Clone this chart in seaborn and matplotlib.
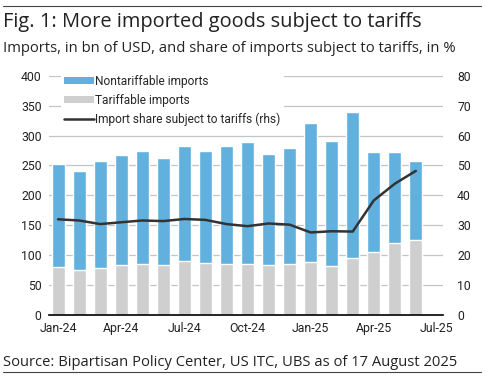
import matplotlib
matplotlib.use("Agg")
import matplotlib.pyplot as plt
import numpy as np
import pandas as pd
import seaborn as sns
from matplotlib.lines import Line2D
from matplotlib.patches import Patch

# Data (monthly, Jan-24 .. Jun-25)
months = ["Jan-24", "Feb-24", "Mar-24", "Apr-24", "May-24", "Jun-24",
          "Jul-24", "Aug-24", "Sep-24", "Oct-24", "Nov-24", "Dec-24",
          "Jan-25", "Feb-25", "Mar-25", "Apr-25", "May-25", "Jun-25"]
total_imports = [253, 241, 258, 268, 274, 263, 283, 275, 282, 290, 269, 280,
                 321, 291, 340, 272, 272, 258]
tariffable = [81, 76, 78, 84, 86, 83, 91, 87, 85, 86, 84, 85,
              89, 82, 95, 105, 120, 125]
share_tariffed = [32.0, 31.6, 30.4, 31.0, 31.6, 31.4, 32.1, 31.8, 30.4, 29.7,
                  30.6, 30.2, 27.6, 28.0, 27.9, 38.3, 43.9, 48.2]
tick_labels = ["Jan-24", "Apr-24", "Jul-24", "Oct-24", "Jan-25", "Apr-25", "Jul-25"]

df = pd.DataFrame({"month": months, "total": total_imports,
                   "tariffable": tariffable, "share": share_tariffed})
df["pos"] = np.arange(len(df))

blue = "#62b0de"
grey = "#cfcfcf"
dark = "#333333"

sns.set_style("white")
plt.rcParams["font.family"] = ["Roboto", "DejaVu Sans"]

fig = plt.figure(figsize=(4.86, 3.79), dpi=100)
ax = fig.add_axes([0.10, 0.169, 0.812, 0.631])

# stacked bars: total in blue, tariffable part drawn over in grey
sns.barplot(data=df, x="month", y="total", color=blue, width=0.62,
            saturation=1, ax=ax, zorder=2)
sns.barplot(data=df, x="month", y="tariffable", color=grey, width=0.62,
            saturation=1, ax=ax, zorder=2)

ax.set_ylim(0, 400)
ax.set_yticks(range(0, 401, 50))
ax.set_xlim(-0.45, 18.3)
ax.set_xticks(range(0, 19, 3))
ax.set_xticklabels(tick_labels)
ax.set_xlabel("")
ax.set_ylabel("")
ax.yaxis.grid(True, color="#c4c4c4", linewidth=0.9, zorder=0)
ax.set_axisbelow(True)
for s in ["top", "right", "left"]:
    ax.spines[s].set_visible(False)
ax.spines["bottom"].set_color("black")
ax.spines["bottom"].set_linewidth(1.2)
ax.tick_params(axis="both", length=0, labelsize=8.8, colors="#222222", pad=5)

ax2 = ax.twinx()
sns.lineplot(data=df, x="pos", y="share", color=dark, linewidth=1.8, ax=ax2)
ax2.set_ylim(0, 80)
ax2.set_yticks(range(0, 81, 10))
ax2.set_xlim(-0.45, 18.3)
ax2.set_ylabel("")
ax2.set_xlabel("")
for s in ["top", "right", "left", "bottom"]:
    ax2.spines[s].set_visible(False)
ax2.tick_params(axis="y", length=0, labelsize=8.8, colors="#222222", pad=10)

handles = [Patch(facecolor=blue, edgecolor="none"),
           Patch(facecolor=grey, edgecolor="none"),
           Line2D([0], [0], color=dark, linewidth=1.8)]
labels = ["Nontariffable imports", "Tariffable imports",
          "Import share subject to tariffs (rhs)"]
leg = ax2.legend(handles, labels, loc="upper left", bbox_to_anchor=(0.025, 1.03),
                 frameon=True, fontsize=8.6, handlelength=2.5, handleheight=0.45,
                 handletextpad=0.1, labelspacing=0.5, borderpad=0.3,
                 borderaxespad=0.2)
leg.get_frame().set_facecolor("white")
leg.get_frame().set_edgecolor("none")
leg.get_frame().set_alpha(1)

fig.text(0.006, 0.93, "Fig. 1: More imported goods subject to tariffs",
         fontsize=14.4, family="Open Sans", color="#222222", va="baseline")
fig.text(0.006, 0.863, "Imports, in bn of USD, and share of imports subject to tariffs, in %",
         fontsize=10.6, family="Open Sans", color="#222222", va="baseline")
fig.text(0.006, 0.035, "Source: Bipartisan Policy Center, US ITC, UBS as of 17 August 2025",
         fontsize=10.6, family="Open Sans", color="#222222", va="baseline")
fig.add_artist(Line2D([0.006, 0.99], [0.985, 0.985], color="#444444", linewidth=0.8))
fig.add_artist(Line2D([0.006, 0.99], [0.018, 0.018], color="#444444", linewidth=0.8))

fig.savefig("out.png", dpi=100)
